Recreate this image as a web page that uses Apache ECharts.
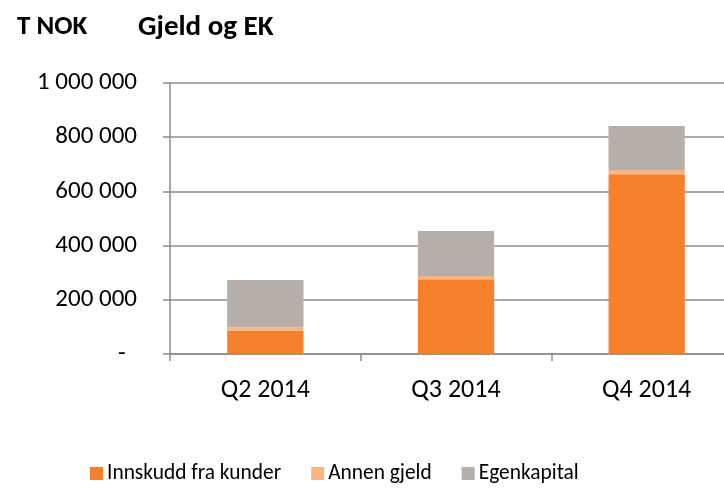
<!DOCTYPE html>
<html>
<head>
<meta charset="utf-8">
<script src="https://cdn.jsdelivr.net/npm/echarts@6/dist/echarts.min.js"></script>
<style>html,body{margin:0;padding:0;background:#fff;overflow:hidden}#c{width:742px;height:492px}</style>
</head>
<body>
<div id="c"></div>
<script>
const categories = ['Q2 2014', 'Q3 2014', 'Q4 2014'];
const innskudd = [86000, 276000, 663000];
const annenGjeld = [12500, 12000, 16000];
const egenkapital = [174500, 166000, 162000];
const seriesNames = ['Innskudd fra kunder', 'Annen gjeld', 'Egenkapital'];
const colors = ['#F6802B', '#FBB585', '#B6AEA9'];
const FONT = 'Carlito, Lato, sans-serif';

function fmt(v) {
  if (v === 0) return '-  ';
  return String(v).replace(/\B(?=(\d{3})+(?!\d))/g, ' ');
}

const chart = echarts.init(document.getElementById('c'), null, {renderer: 'canvas'});
const axisGray = '#8C8C8C';
chart.setOption({
  animation: false,
  textStyle: {fontFamily: FONT},
  graphic: [
    {type: 'text', left: 17, top: 14, style: {text: 'T NOK', font: 'bold 27px ' + FONT, fill: '#000'}},
    {type: 'text', left: 138, top: 13, style: {text: 'Gjeld og EK', font: 'bold 29px ' + FONT, fill: '#000'}}
  ],
  grid: {left: 170, width: 572, top: 83, height: 271, containLabel: false},
  legend: {
    left: 85, top: 458, icon: 'rect', itemWidth: 13, itemHeight: 13, itemGap: 30,
    textStyle: {fontSize: 21.4, color: '#000', fontFamily: FONT, padding: [0, 0, 0, -1]},
    data: seriesNames
  },
  xAxis: {
    type: 'category', data: categories,
    axisLine: {lineStyle: {color: axisGray, width: 1.5}},
    axisTick: {show: true, length: 7, lineStyle: {color: axisGray, width: 1.5}},
    axisLabel: {fontSize: 26, color: '#000', margin: 23, fontFamily: FONT}
  },
  yAxis: {
    type: 'value', min: 0, max: 1000000, interval: 200000,
    axisLine: {show: true, lineStyle: {color: axisGray, width: 1.5}},
    axisTick: {show: true, length: 7, lineStyle: {color: axisGray, width: 1.5}},
    splitLine: {show: true, lineStyle: {color: axisGray, width: 1.5}},
    axisLabel: {fontSize: 25, color: '#000', margin: 33, formatter: fmt, fontFamily: FONT}
  },
  series: [
    {name: seriesNames[0], type: 'bar', stack: 'a', data: innskudd, barWidth: '40%', itemStyle: {color: colors[0]}},
    {name: seriesNames[1], type: 'bar', stack: 'a', data: annenGjeld, itemStyle: {color: colors[1]}},
    {name: seriesNames[2], type: 'bar', stack: 'a', data: egenkapital, itemStyle: {color: colors[2]}}
  ]
});
</script>
</body>
</html>
